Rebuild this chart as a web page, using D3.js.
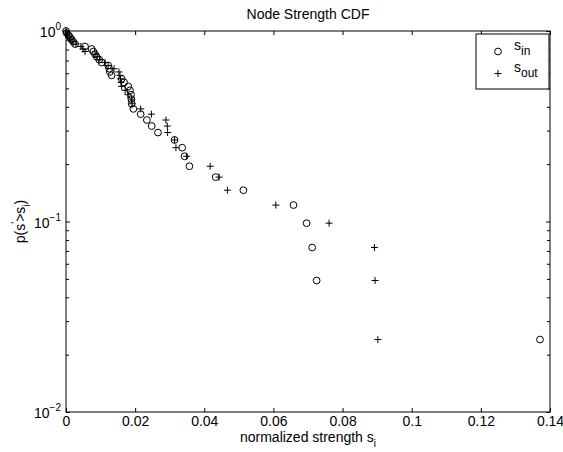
<!DOCTYPE html>
<html lang="en">
<head>
    <meta charset="UTF-8">
    <title>Node Strength CDF</title>
    <script src="https://d3js.org/d3.v7.min.js"></script>
    <style>
        body { margin: 0; background: #fff; }
        text { font-family: "Liberation Sans", Arial, Helvetica, sans-serif; fill: #000; }
    </style>
</head>
<body>
    <svg></svg>
    <script>
        // values
        const pVals = [1.0, 0.976, 0.951, 0.927, 0.902, 0.878, 0.854, 0.829, 0.805, 0.780,
                       0.756, 0.732, 0.707, 0.683, 0.659, 0.634, 0.610, 0.585, 0.561, 0.537,
                       0.512, 0.488, 0.463, 0.439, 0.415, 0.390, 0.366, 0.341, 0.317, 0.293,
                       0.268, 0.244, 0.220, 0.195, 0.171, 0.146, 0.122, 0.098, 0.073, 0.049, 0.024];
        const sIn = [0, 0.0002, 0.0007, 0.0012, 0.0016, 0.0021, 0.0026, 0.0055, 0.0074, 0.0079,
                     0.0084, 0.0089, 0.0096, 0.0103, 0.0122, 0.0125, 0.0127, 0.0132, 0.0161, 0.0168,
                     0.0180, 0.0185, 0.0188, 0.0189, 0.0190, 0.0195, 0.0216, 0.0234, 0.0248, 0.0266,
                     0.0314, 0.0336, 0.0343, 0.0357, 0.0433, 0.0513, 0.0658, 0.0696, 0.0712, 0.0725, 0.1371];
        const sOut = [0, 0.0001, 0.0004, 0.0009, 0.0014, 0.0020, 0.0029, 0.0043, 0.0049, 0.0055,
                      0.0084, 0.0090, 0.0098, 0.0113, 0.0122, 0.0139, 0.0153, 0.0156, 0.0158, 0.0159,
                      0.0161, 0.0171, 0.0179, 0.0190, 0.0191, 0.0216, 0.0247, 0.0289, 0.0293, 0.0294,
                      0.0314, 0.0318, 0.0349, 0.0417, 0.0443, 0.0467, 0.0607, 0.0761, 0.0892, 0.0894, 0.0902];
        const xTicks = [0, 0.02, 0.04, 0.06, 0.08, 0.1, 0.12, 0.14];
        const xTickLabels = ["0", "0.02", "0.04", "0.06", "0.08", "0.1", "0.12", "0.14"];
        const yMajor = [1, 0.1, 0.01];
        const yExponents = ["0", "\u22121", "\u22122"];

        const width = 563, height = 452;
        const mLeft = 66, mRight = 550, mTop = 31, mBottom = 412;

        const svg = d3.select("svg")
            .attr("width", width)
            .attr("height", height);

        const x = d3.scaleLinear().domain([0, 0.14]).range([mLeft, mRight]);
        const y = d3.scaleLog().domain([0.01, 1]).range([mBottom, mTop]);

        const yMinor = [];
        [0.01, 0.1].forEach(d => { for (let m = 2; m <= 9; m++) yMinor.push(d * m); });

        // ticks (inward, both sides)
        const xb = svg.append("g").attr("transform", `translate(0,${mBottom})`)
            .call(d3.axisBottom(x).tickValues(xTicks).tickSize(-4).tickSizeOuter(0)
                .tickFormat((d, i) => xTickLabels[i]).tickPadding(14));
        const xt = svg.append("g").attr("transform", `translate(0,${mTop})`)
            .call(d3.axisTop(x).tickValues(xTicks).tickSize(-4).tickSizeOuter(0).tickFormat(""));
        const yl = svg.append("g").attr("transform", `translate(${mLeft},0)`)
            .call(d3.axisLeft(y).tickValues(yMajor.concat(yMinor)).tickSize(-4).tickSizeOuter(0).tickFormat(""));
        const yr = svg.append("g").attr("transform", `translate(${mRight},0)`)
            .call(d3.axisRight(y).tickValues(yMajor.concat(yMinor)).tickSize(-4).tickSizeOuter(0).tickFormat(""));
        [xb, xt, yl, yr].forEach(g => {
            g.select(".domain").remove();
            g.selectAll("line").attr("stroke", "#000");
        });
        yl.selectAll(".tick line").filter(d => !yMajor.includes(d)).attr("x2", 3);
        yr.selectAll(".tick line").filter(d => !yMajor.includes(d)).attr("x2", -3);
        xb.selectAll("text").attr("font-size", 14).attr("font-family", null).attr("dy", 0);

        // y tick labels 10^n
        yMajor.forEach((d, i) => {
            const t = svg.append("text")
                .attr("x", mLeft - 5)
                .attr("y", y(d) + 6)
                .attr("text-anchor", "end")
                .attr("font-size", 14);
            t.append("tspan").text("10");
            t.append("tspan").attr("dy", -7).attr("font-size", 10).text(yExponents[i]);
        });

        // box
        svg.append("rect")
            .attr("x", mLeft).attr("y", mTop)
            .attr("width", mRight - mLeft).attr("height", mBottom - mTop)
            .attr("fill", "none").attr("stroke", "#000").attr("stroke-width", 1);

        // title and labels
        svg.append("text")
            .attr("x", (mLeft + mRight) / 2).attr("y", 19)
            .attr("text-anchor", "middle").attr("font-size", 14)
            .text("Node Strength CDF");

        const xl = svg.append("text")
            .attr("x", (mLeft + mRight) / 2).attr("y", 442)
            .attr("text-anchor", "middle").attr("font-size", 14);
        xl.append("tspan").text("normalized strength s");
        xl.append("tspan").attr("dy", 5).attr("font-size", 10).text("i");

        const ylab = svg.append("text")
            .attr("transform", `translate(25,${(mTop + mBottom) / 2}) rotate(-90)`)
            .attr("text-anchor", "middle").attr("font-size", 14);
        ylab.append("tspan").text("p(s");
        ylab.append("tspan").attr("dy", -6).attr("font-size", 10).text("'");
        ylab.append("tspan").attr("dy", 6).text(">s");
        ylab.append("tspan").attr("dy", 5).attr("font-size", 10).text("i");
        ylab.append("tspan").attr("dy", -5).text(")");

        // markers
        const plus = (g, cx, cy) => g.append("path")
            .attr("d", `M${cx - 3.5},${cy}H${cx + 3.5}M${cx},${cy - 3.5}V${cy + 3.5}`)
            .attr("stroke", "#000").attr("stroke-width", 1).attr("fill", "none");

        const gIn = svg.append("g");
        gIn.selectAll("circle")
            .data(sIn.map((s, i) => [s, pVals[i]]))
            .join("circle")
            .attr("cx", d => x(d[0]))
            .attr("cy", d => y(d[1]))
            .attr("r", 3.4)
            .attr("fill", "none")
            .attr("stroke", "#000")
            .attr("stroke-width", 1);

        const gOut = svg.append("g");
        sOut.forEach((s, i) => plus(gOut, x(s), y(pVals[i])));

        // legend
        const lg = svg.append("g");
        lg.append("rect")
            .attr("x", 476).attr("y", 34).attr("width", 73).attr("height", 55)
            .attr("fill", "#fff").attr("stroke", "#000").attr("stroke-width", 1);
        lg.append("circle").attr("cx", 498).attr("cy", 51.5).attr("r", 3.4)
            .attr("fill", "none").attr("stroke", "#000");
        plus(lg, 498, 73.5);
        const l1 = lg.append("text").attr("x", 514).attr("y", 50).attr("font-size", 14);
        l1.append("tspan").text("s");
        l1.append("tspan").attr("dy", 5).attr("font-size", 12).text("in");
        const l2 = lg.append("text").attr("x", 514).attr("y", 72).attr("font-size", 14);
        l2.append("tspan").text("s");
        l2.append("tspan").attr("dy", 5).attr("font-size", 12).text("out");
    </script>
</body>
</html>
